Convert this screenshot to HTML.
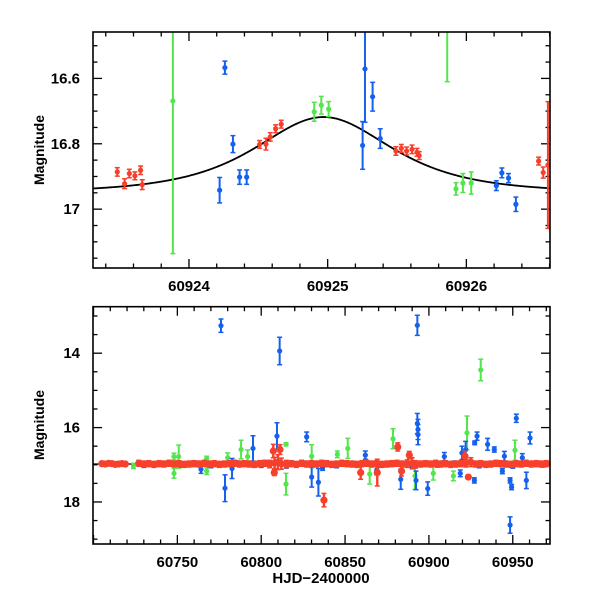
<!DOCTYPE html>
<html><head><meta charset="utf-8">
<style>
html,body{margin:0;padding:0;background:#fff;}
svg{display:block;}
text{font-family:"Liberation Sans",sans-serif;fill:#000;}
</style></head>
<body>
<svg id="fig" width="600" height="600" viewBox="0 0 600 600" xmlns="http://www.w3.org/2000/svg">
  <g id="top"></g>
  <g id="bot"></g>
  <text x="0" y="0" transform="translate(44,150) rotate(-90)" text-anchor="middle" font-size="14" font-weight="bold">Magnitude</text>
  <text x="0" y="0" transform="translate(44,425) rotate(-90)" text-anchor="middle" font-size="14" font-weight="bold">Magnitude</text>
  <text x="321" y="583" text-anchor="middle" font-size="15" font-weight="bold">HJD−2400000</text>
</svg>
<script>
// ---- top panel data ----
const topRedT=[60923.483,60923.536,60923.570,60923.610,60923.651,60923.663,60924.509,60924.555,60924.586,60924.625,60924.665,60925.492,60925.531,60925.569,60925.608,60925.644,60925.660,60926.521,60926.554,60926.588];
const topRedM=[16.886,16.922,16.891,16.898,16.881,16.925,16.802,16.801,16.779,16.754,16.740,16.822,16.814,16.822,16.817,16.826,16.836,16.853,16.888,16.865];
const topRedE=[0.013,0.015,0.013,0.012,0.013,0.015,0.012,0.018,0.013,0.012,0.012,0.013,0.012,0.012,0.013,0.012,0.012,0.012,0.017,0.194];
const topBlueT=[60924.221,60924.259,60924.317,60924.365,60924.416,60925.252,60925.269,60925.324,60925.379,60926.216,60926.256,60926.304,60926.357];
const topBlueM=[16.942,16.567,16.801,16.902,16.902,16.805,16.571,16.656,16.784,16.928,16.889,16.905,16.985];
const topBlueE=[0.039,0.020,0.026,0.022,0.022,0.073,0.163,0.044,0.030,0.015,0.015,0.014,0.022];
const topGreenT=[60923.884,60924.903,60924.954,60925.007,60925.862,60925.925,60925.975,60926.035];
const topGreenM=[16.669,16.702,16.682,16.694,16.20,16.938,16.920,16.920];
const topGreenE=[0.467,0.029,0.027,0.023,0.41,0.019,0.029,0.034];
// microlensing model parameters
const modelT0=60924.97, modelTE=0.54, modelU0=1.18, modelBase=16.95;

// ---- bottom panel data ----
const botRedT=[60705,60707,60709,60711,60713,60715,60717,60719,60727,60730,60733,60736,60739,60742,60745,60748,60751,60754,60757,60760,60763,60766,60769,60772,60775,60778,60781,60784,60787,60790,60793,60796,60799,60802,60805,60808,60810,60812,60815,60818,60821,60824,60827,60830,60833,60836,60839,60842,60845,60848,60851,60854,60857,60860,60863,60866,60869,60872,60875,60878,60881,60884,60887,60890,60892,60895,60898,60901,60904,60907,60910,60913,60916,60919,60922,60925,60928,60931,60934,60937,60940,60943,60946,60949,60952,60955,60958,60961,60964,60967,60970,
60837.4,60881.4,60888.3,60859.3,60869.2,60883.7,60923.5,60807.2,60811.2,60807.8,60921.5];
const botRedM=[16.97,16.98,16.96,16.97,16.99,16.98,16.97,16.98,16.96,16.98,16.97,16.99,16.97,16.98,16.96,16.98,16.97,16.99,16.98,16.97,16.98,16.96,16.98,16.97,16.99,16.98,16.97,16.96,16.98,16.97,16.98,16.99,16.97,16.96,16.98,16.95,16.93,16.97,16.98,16.97,16.99,16.96,16.98,16.97,16.98,16.96,16.97,16.99,16.98,16.96,16.97,16.98,16.99,16.97,16.96,16.98,16.97,16.99,16.98,16.97,16.96,16.98,16.97,16.96,16.99,16.98,16.97,16.98,16.96,16.98,16.97,16.99,16.98,16.97,16.96,16.93,16.98,16.97,16.99,16.98,16.96,16.97,16.98,16.99,16.97,16.98,16.96,16.98,16.97,16.98,16.97,
17.95,16.52,16.74,17.21,17.21,17.17,17.33,16.63,16.59,17.21,16.77];
const botRedE=[0.05,0.05,0.05,0.05,0.05,0.05,0.05,0.05,0.08,0.08,0.08,0.08,0.08,0.08,0.08,0.08,0.08,0.08,0.08,0.08,0.08,0.08,0.08,0.08,0.08,0.08,0.08,0.08,0.08,0.08,0.08,0.08,0.08,0.08,0.1,0.15,0.2,0.15,0.1,0.08,0.08,0.08,0.08,0.08,0.08,0.08,0.08,0.08,0.08,0.08,0.08,0.08,0.08,0.08,0.08,0.08,0.08,0.08,0.08,0.08,0.08,0.08,0.1,0.15,0.1,0.08,0.08,0.08,0.08,0.08,0.08,0.08,0.08,0.08,0.1,0.12,0.08,0.08,0.08,0.08,0.08,0.08,0.08,0.08,0.08,0.08,0.08,0.08,0.08,0.08,0.08,
0.18,0.11,0.1,0.18,0.36,0.13,0.04,0.18,0.13,0.08,0.13];
const botBlueT=[60776.0,60811.0,60893.1,60952.1,60960.3,60928.7,60935.0,60939.0,60927.3,60827.1,60809.4,60795.1,60893.1,60893.5,60893.5,60921.9,60919.7,60778.4,60782.6,60830.1,60834.1,60883.2,60892.3,60899.3,60927.1,60948.4,60949.3,60948.4,60958.1,60945.0,60918.7,60764.1,60955.7,60909.2,60862.1,60868.9,60836.6,60943.8,
60730,60740,60752,60760,60770,60785,60800,60815,60825,60845,60855,60870,60880,60890,60905,60915,60930,60940,60950,60962,60968];
const botBlueM=[13.26,13.94,13.25,15.75,16.28,16.23,16.45,16.59,16.41,16.25,16.23,16.56,15.89,16.05,16.19,16.59,16.68,17.63,17.10,17.33,17.47,17.39,17.42,17.64,17.42,17.42,17.60,18.62,17.42,16.77,17.23,17.12,16.81,16.78,16.74,17.14,17.08,17.17,
17.02,16.96,17.01,16.95,17.03,16.94,17.02,17.04,16.95,17.03,16.96,17.02,16.95,17.04,17.01,16.95,17.03,16.94,17.04,16.96,17.01];
const botBlueE=[0.18,0.37,0.27,0.11,0.16,0.11,0.16,0.07,0.05,0.13,0.36,0.34,0.27,0.27,0.27,0.22,0.18,0.36,0.27,0.27,0.37,0.27,0.25,0.18,0.07,0.07,0.07,0.22,0.22,0.13,0.09,0.11,0.11,0.11,0.11,0.13,0.07,0.07,
0.05,0.05,0.05,0.05,0.05,0.05,0.05,0.05,0.05,0.05,0.05,0.05,0.05,0.05,0.05,0.05,0.05,0.05,0.05,0.05,0.05];
const botGreenT=[60930.9,60922.7,60878.6,60788.0,60791.9,60750.8,60748.0,60748.0,60767.5,60767.5,60814.8,60814.8,60830.1,60851.6,60845.4,60864.7,60891.7,60902.6,60914.6,60951.3,60780.0,60723.8];
const botGreenM=[14.45,16.14,16.30,16.59,16.78,16.78,16.78,17.23,17.17,16.84,16.45,17.52,16.77,16.56,16.72,17.25,17.30,17.23,17.30,16.61,16.81,17.03];
const botGreenE=[0.29,0.45,0.27,0.25,0.18,0.31,0.09,0.13,0.09,0.07,0.04,0.29,0.31,0.27,0.09,0.27,0.36,0.18,0.13,0.27,0.13,0.07];

const NS='http://www.w3.org/2000/svg';
const RED='#f7402c', BLUE='#1560ec', GREEN='#52e64c';
function mk(parent,tag,attrs){const e=document.createElementNS(NS,tag);for(const k in attrs)e.setAttribute(k,attrs[k]);parent.appendChild(e);return e;}

function panel(g,box,xr,yr,xt,yt,xMaj,xMin,yMaj,yMin){
  const sx=v=>box.x0+(v-xr[0])/(xr[1]-xr[0])*(box.x1-box.x0);
  const sy=v=>box.y0+(v-yr[0])/(yr[1]-yr[0])*(box.y1-box.y0);
  const tg=mk(g,'g',{stroke:'#000','stroke-width':1.3});
  
  
  for(let v=Math.ceil(xr[0]/xMin)*xMin;v<=xr[1];v+=xMin){
    const maj=Math.abs(v/xMaj-Math.round(v/xMaj))<1e-6;const L=maj?9:4.5;const x=sx(v);
    mk(tg,'line',{x1:x,x2:x,y1:box.y1,y2:box.y1-L});mk(tg,'line',{x1:x,x2:x,y1:box.y0,y2:box.y0+L});
  }
  for(let v=Math.ceil(yr[0]/yMin)*yMin;v<=yr[1];v+=yMin){
    const maj=Math.abs(v/yMaj-Math.round(v/yMaj))<1e-6;const L=maj?9:4.5;const y=sy(v);
    mk(tg,'line',{x1:box.x0,x2:box.x0+L,y1:y,y2:y});mk(tg,'line',{x1:box.x1,x2:box.x1-L,y1:y,y2:y});
  }
  xt.forEach(v=>{const t=mk(g,'text',{x:sx(v),y:box.y1+23,'text-anchor':'middle','font-size':15,'font-weight':'bold'});t.textContent=String(v);
    
    });
  yt.forEach(v=>{const t=mk(g,'text',{x:box.x0-13,y:sy(v)+5,'text-anchor':'end','font-size':15,'font-weight':'bold'});t.textContent=String(v);
    
    });
  return {sx,sy};
}
function series(g,clip,sc,T,M,E,col,name,r,w){
  const sg=mk(g,'g',{'clip-path':'url(#'+clip+')'});
  
  
  for(let i=0;i<T.length;i++){
    const x=sc.sx(T[i]),y=sc.sy(M[i]),y1=sc.sy(M[i]-E[i]),y2=sc.sy(M[i]+E[i]);
    mk(sg,'line',{x1:x,x2:x,y1:y1,y2:y2,stroke:col,'stroke-width':w||2});
    mk(sg,'line',{x1:x-2.5,x2:x+2.5,y1:y1,y2:y1,stroke:col,'stroke-width':1.5});
    mk(sg,'line',{x1:x-2.5,x2:x+2.5,y1:y2,y2:y2,stroke:col,'stroke-width':1.5});
    const c=mk(sg,'circle',{cx:x,cy:y,r:r,fill:col});
    
    
  }
}
const svg=document.getElementById('fig');
const defs=mk(svg,'defs',{});
const topBox={x0:93,x1:550,y0:32,y1:268}, botBox={x0:93,x1:550,y0:306.7,y1:544};
[['clipTop',topBox],['clipBot',botBox]].forEach(([id,b])=>{const cp=mk(defs,'clipPath',{id:id});mk(cp,'rect',{x:b.x0,y:b.y0,width:b.x1-b.x0,height:b.y1-b.y0});});

// top
const gt=document.getElementById('top');
const st=panel(gt,topBox,[60923.308,60926.603],[16.458,17.18],[60924,60925,60926],[16.6,16.8,17],1,0.2,0.2,0.05);
const cg=mk(gt,'g',{'clip-path':'url(#clipTop)'});
let d='';
for(let px=topBox.x0;px<=topBox.x1;px+=1){
  const t=60923.308+(px-topBox.x0)/(topBox.x1-topBox.x0)*(60926.603-60923.308);
  const tau=(t-modelT0)/modelTE;const u=Math.sqrt(modelU0*modelU0+tau*tau);
  const A=(u*u+2)/(u*Math.sqrt(u*u+4));const m=modelBase-2.5*Math.log10(A);
  d+=(d?'L':'M')+px.toFixed(1)+','+st.sy(m).toFixed(2);
}
const curve=mk(cg,'path',{d:d,fill:'none',stroke:'#000','stroke-width':1.8});


series(gt,'clipTop',st,topRedT,topRedM,topRedE,RED,'red-series',2.6);
series(gt,'clipTop',st,topBlueT,topBlueM,topBlueE,BLUE,'blue-series',2.6);
series(gt,'clipTop',st,topGreenT,topGreenM,topGreenE,GREEN,'green-series',2.6);
const ft=mk(gt,'rect',{x:topBox.x0,y:topBox.y0,width:topBox.x1-topBox.x0,height:topBox.y1-topBox.y0,fill:'none',stroke:'#000','stroke-width':1.6});



// bottom
const gb=document.getElementById('bot');
const sb=panel(gb,botBox,[60699.7,60972.2],[12.75,19.13],[60750,60800,60850,60900,60950],[14,16,18],50,10,2,0.5);
const base=mk(gb,'line',{x1:botBox.x0,x2:botBox.x1,y1:sb.sy(16.98),y2:sb.sy(16.98),stroke:'#000','stroke-width':1.2});


series(gb,'clipBot',sb,botGreenT,botGreenM,botGreenE,GREEN,'green-series-full',2.6);
series(gb,'clipBot',sb,botBlueT,botBlueM,botBlueE,BLUE,'blue-series-full',2.6);
series(gb,'clipBot',sb,botRedT,botRedM,botRedE,RED,'red-series-full',3.6,2.4);
const fb=mk(gb,'rect',{x:botBox.x0,y:botBox.y0,width:botBox.x1-botBox.x0,height:botBox.y1-botBox.y0,fill:'none',stroke:'#000','stroke-width':1.6});


</script>
</body></html>
